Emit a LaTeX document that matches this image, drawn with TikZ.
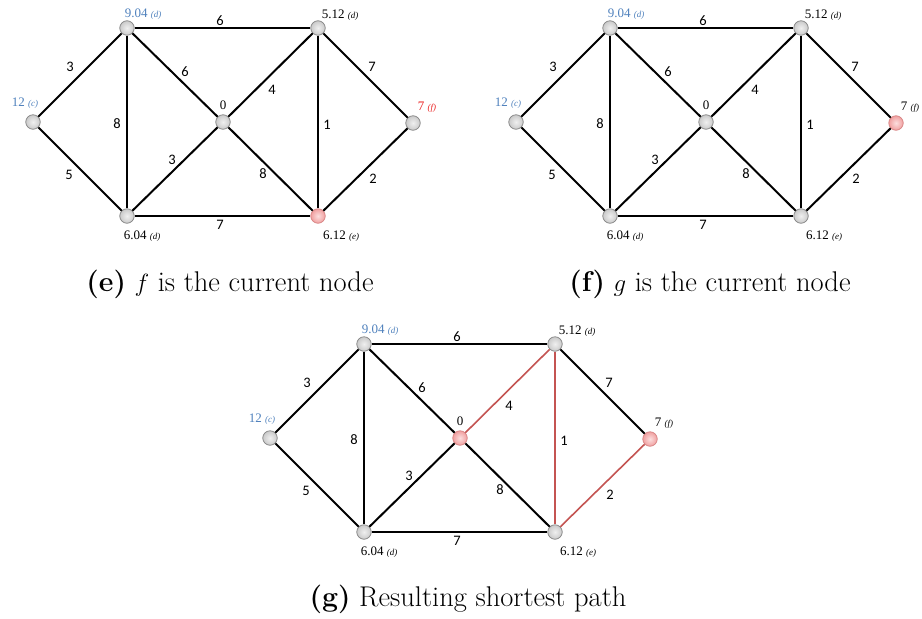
\documentclass[tikz,border=0pt]{standalone}
\usepackage{fontspec}
\newfontfamily\nlfont{Liberation Serif}
\newfontfamily\elfont{Carlito}
\definecolor{lblblue}{RGB}{79,129,189}
\definecolor{lblred}{RGB}{235,30,30}
\definecolor{pathred}{RGB}{196,84,82}
\definecolor{nborder}{RGB}{130,130,130}
\definecolor{npinkb}{RGB}{215,130,130}
\tikzset{
  vtx/.style={circle, minimum size=14.5pt, inner sep=0pt, draw=nborder, line width=0.7pt,
    inner color=gray!12, outer color=gray!42},
  vtxpink/.style={circle, minimum size=14.5pt, inner sep=0pt, draw=npinkb, line width=0.7pt,
    inner color={rgb,255:red,252;green,222;blue,222}, outer color={rgb,255:red,240;green,160;blue,160}},
  conn/.style={line width=2pt, black},
  pathconn/.style={line width=1.6pt, pathred},
  elab/.style={font=\elfont\fontsize{14.5}{16}\selectfont, inner sep=0pt},
  nlab/.style={font=\nlfont\fontsize{13}{15}\selectfont, inner sep=0pt},
  caption/.style={font=\fontsize{28.5}{32}\selectfont, inner sep=0pt},
  vA/.style={vtx}, vB/.style={vtx}, vC/.style={vtx}, vD/.style={vtx},
  vE/.style={vtx}, vF/.style={vtx}, vG/.style={vtx},
  cDB/.style={conn}, cBG/.style={conn}, cGF/.style={conn},
  flab/.style={}
}
\newcommand{\smallit}[1]{{\fontsize{9}{10}\selectfont\itshape #1}}
\newcommand{\graphbody}[1]{%
  \node[vA] (#1A) at (127,28) {};
  \node[vB] (#1B) at (318,28) {};
  \node[vC] (#1C) at (33,122) {};
  \node[vD] (#1D) at (223,122) {};
  \node[vF] (#1F) at (413,123) {};
  \node[vE] (#1E) at (127,216) {};
  \node[vG] (#1G) at (318,216) {};
  \draw[conn] (#1A) -- (#1B);
  \draw[conn] (#1C) -- (#1A);
  \draw[conn] (#1A) -- (#1D);
  \draw[cDB] (#1D) -- (#1B);
  \draw[conn] (#1B) -- (#1F);
  \draw[conn] (#1A) -- (#1E);
  \draw[cBG] (#1B) -- (#1G);
  \draw[conn] (#1C) -- (#1E);
  \draw[conn] (#1E) -- (#1D);
  \draw[conn] (#1D) -- (#1G);
  \draw[cGF] (#1G) -- (#1F);
  \draw[conn] (#1E) -- (#1G);
  \node[nlab, text=lblblue] (#1la) at (143,14) {9.04 \smallit{(d)}};
  \node[nlab] (#1lb) at (340,15) {5.12 \smallit{(d)}};
  \node[nlab, text=lblblue] (#1lc) at (25,103) {12 \smallit{(c)}};
  \node[nlab] (#1ld) at (223,105) {0};
  \node[nlab, flab] (#1lf) at (427,107) {7 \smallit{(f)}};
  \node[nlab] (#1le) at (142,236) {6.04 \smallit{(d)}};
  \node[nlab] (#1lg) at (341,236) {6.12 \smallit{(e)}};
  \node[elab] (#1w1) at (220,21) {6};
  \node[elab] (#1w2) at (70,67) {3};
  \node[elab] (#1w3) at (185,72) {6};
  \node[elab] (#1w4) at (272,90) {4};
  \node[elab] (#1w5) at (372,67) {7};
  \node[elab] (#1w6) at (117,124) {8};
  \node[elab] (#1w7) at (327,125) {1};
  \node[elab] (#1w8) at (69,175) {5};
  \node[elab] (#1w9) at (172,160) {3};
  \node[elab] (#1w10) at (263,174) {8};
  \node[elab] (#1w11) at (373,179) {2};
  \node[elab] (#1w12) at (220,225) {7};
}
\begin{document}
\begin{tikzpicture}[x=1pt, y=-1pt]
  \useasboundingbox[fill=white] (0,0) rectangle (922,619);
  \begin{scope}[vG/.style={vtxpink}, flab/.style={text=lblred}]
    \graphbody{e}
  \end{scope}
  \begin{scope}[shift={(483,0)}, vF/.style={vtxpink}]
    \graphbody{f}
  \end{scope}
  \begin{scope}[shift={(237,316)}, vD/.style={vtxpink}, vF/.style={vtxpink},
      cDB/.style={pathconn}, cBG/.style={pathconn}, cGF/.style={pathconn}]
    \graphbody{g}
  \end{scope}
  \node[caption] (capE) at (230,284) {\textbf{(e)} $f$ is the current node};
  \node[caption] (capF) at (710,284) {\textbf{(f)} $g$ is the current node};
  \node[caption] (capG) at (468,599) {\textbf{(g)} Resulting shortest path};
\end{tikzpicture}
\end{document}
